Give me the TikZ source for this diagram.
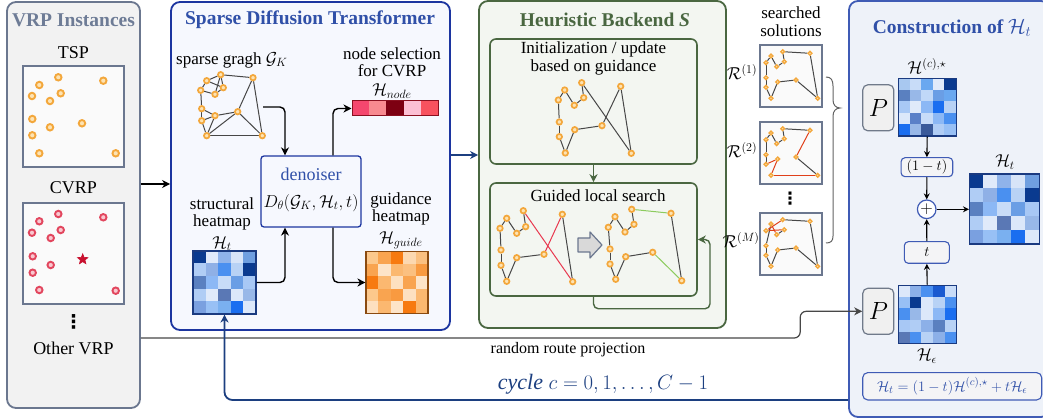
\documentclass[tikz,border=0pt]{standalone}
\usepackage{fontspec}
\setmainfont{Liberation Serif}
\newfontfamily\symfont{DejaVu Sans}
\usetikzlibrary{arrows.meta,shapes.geometric,calc}
\pgfdeclarelayer{back}
\pgfdeclarelayer{mid}
\pgfsetlayers{back,mid,main}

\definecolor{lpfill}{HTML}{F2F2F2}
\definecolor{lpdraw}{HTML}{6B778F}
\definecolor{lptitle}{HTML}{6E7C96}
\definecolor{sdtfill}{HTML}{F6F8FE}
\definecolor{sdtdraw}{HTML}{1C35A0}
\definecolor{sdttitle}{HTML}{3050A8}
\definecolor{hbfill}{HTML}{F3F6F1}
\definecolor{hbdraw}{HTML}{4A6741}
\definecolor{consfill}{HTML}{EEF2F9}
\definecolor{consdraw}{HTML}{3F5BB5}
\definecolor{cyc}{HTML}{1C3F80}
\definecolor{dotor}{HTML}{F3A73B}
\definecolor{dotorin}{HTML}{FDE3B3}
\definecolor{dotred}{HTML}{E2465E}
\definecolor{dotredin}{HTML}{F9C8D0}
\definecolor{edgeg}{HTML}{474747}
\definecolor{edgered}{HTML}{E8384F}
\definecolor{edgegreen}{HTML}{8CCB5E}
\definecolor{edgeorange}{HTML}{E0401A}
\definecolor{boxgray}{HTML}{FAFAFA}
\definecolor{pfill}{HTML}{F0F0F0}
\definecolor{pdraw}{HTML}{707A8A}
\definecolor{cboxfill}{HTML}{F4F4F6}
\definecolor{hmblue}{HTML}{1A3A80}
\definecolor{hmorange}{HTML}{8A4A10}
\definecolor{hmred}{HTML}{8A1020}
\definecolor{starred}{HTML}{C8102E}
\definecolor{barrowfill}{HTML}{D9D9D9}

% 5x5 heat map: #1 name, #2/#3 centre, #4 side, #5 border colour, #6 cell colours row by row
\newcommand{\hmap}[6]{%
  \foreach \hc [count=\i from 0] in {#6} {%
    \pgfmathtruncatemacro{\cx}{mod(\i,5)}%
    \pgfmathtruncatemacro{\cy}{floor(\i/5)}%
    \definecolor{cellc}{HTML}{\hc}%
    \fill[cellc, draw=cellc, line width=0.2pt] ({#2-#4/2+\cx*#4/5},{#3-#4/2+\cy*#4/5}) rectangle ++({#4/5},{#4/5});
  }
  \node[draw=#5, line width=1.1pt, minimum size=#4pt, inner sep=0] (#1) at (#2,#3) {};
}

% twelve small route points inside a solution box with top-left corner (#2,#3)
\newcommand{\soltour}[3]{%
  \foreach \px/\py [count=\k] in {22.7/6.7, 11/11, 6/17.7, 16.7/21.7, 24.3/16.7, 6/32.7, 6/42.3, 17.7/37, 36/35, 50/8.3, 11/53.3, 57.7/53.3}
    \node[mdot] (#1-\k) at (#2+\px,#3+\py) {};
}

\tikzset{
  panel/.style={rounded corners=9pt, line width=1.8pt, inner sep=0},
  ibox/.style={rounded corners=6pt, line width=1.6pt, draw=hbdraw, fill=hbfill, inner sep=0},
  sqbox/.style={draw=lpdraw, fill=boxgray, line width=1.6pt, minimum size=101pt, inner sep=0},
  sbox/.style={draw=lpdraw, fill=boxgray, line width=1.5pt, minimum size=62pt, inner sep=0},
  txt/.style={font=\fontsize{17}{19}\selectfont, inner sep=0},
  stack/.style={font=\fontsize{17}{17.5}\selectfont, inner sep=0, align=center},
  ttl/.style={font=\fontsize{19.5}{22}\selectfont\bfseries, inner sep=0},
  vdot/.style={inner sep=0, font=\symfont\bfseries\fontsize{19}{19}\selectfont},
  arr/.style={-{Stealth[length=8pt,width=8pt,inset=2.5pt]}, line width=1.4pt, rounded corners=5pt},
  dot/.style={circle, draw=dotor, fill=dotorin, line width=1.7pt, inner sep=0, minimum size=5.5pt},
  bigdot/.style={dot, minimum size=6.5pt, line width=1.9pt},
  rdot/.style={bigdot, draw=dotred, fill=dotredin},
  mdot/.style={dot, line width=1.3pt, minimum size=3.8pt},
  edge/.style={draw=edgeg, line width=1pt},
  pbox/.style={rounded corners=5pt, draw=pdraw, fill=pfill, line width=1.2pt, minimum width=31pt, minimum height=46pt, inner sep=0, font=\fontsize{30}{30}\selectfont},
  cbox/.style={rounded corners=4pt, draw=consdraw, fill=cboxfill, line width=1.1pt, inner sep=0, font=\fontsize{15}{15}\selectfont},
  carr/.style={-{Stealth[length=6pt,width=6pt,inset=2pt]}, line width=1.1pt},
}

\begin{document}
\begin{tikzpicture}[x=1pt,y=-1pt]
\useasboundingbox (0,0) rectangle (1043,419);

% ---------- panels and frames ----------
\begin{pgfonlayer}{back}
  \node[panel, draw=lpdraw, fill=lpfill, minimum width=133pt, minimum height=406pt] (lp) at (73.5,205) {};
  \node[panel, draw=sdtdraw, fill=sdtfill, minimum width=279pt, minimum height=328pt] (sdt) at (310.5,166) {};
  \node[panel, draw=hbdraw, fill=hbfill, minimum width=247pt, minimum height=327pt] (hb) at (602.5,164.5) {};
  \node[panel, draw=consdraw, fill=consfill, minimum width=201pt, minimum height=416pt] (cons) at (949.5,209) {};
  \node[ibox, minimum width=207pt, minimum height=125pt] (ib1) at (593.5,101.5) {};
  \node[ibox, minimum width=207pt, minimum height=113pt] (ib2) at (593.5,239.5) {};
  \node[sqbox] (tspbox) at (73.5,116.5) {};
  \node[sqbox] (cvrpbox) at (73.5,253.5) {};
  \node[sbox] (sb1) at (791,76) {};
  \node[sbox] (sb2) at (791,153) {};
  \node[sbox] (sb3) at (791,244) {};
  \node[rounded corners=3pt, draw=sdtdraw, fill=sdtfill, line width=1.3pt, minimum width=100pt, minimum height=71pt, inner sep=0] (den) at (311,191.5) {};
\end{pgfonlayer}

% ---------- titles ----------
\node[ttl, text=lptitle] (lpt) at (73.5,20) {VRP Instances};
\node[ttl, text=sdttitle] (sdtt) at (310,20) {Sparse Diffusion Transformer};
\node[ttl, text=hbdraw] (hbt) at (605,20) {Heuristic Backend \textit{S}};
\node[ttl, text=sdttitle] (const) at (952,28) {Construction of $\mathcal{H}_t$};

% ---------- VRP instances ----------
\node[txt, font=\fontsize{18}{20}\selectfont] (tspl) at (73.5,53) {TSP};
\node[txt, font=\fontsize{18}{20}\selectfont] (cvrpl) at (73.5,188) {CVRP};
\node[vdot] (vd) at (73.5,322) {⋮};
\node[txt, font=\fontsize{18}{20}\selectfont] (othl) at (73.5,348) {Other VRP};
\foreach \x/\y [count=\k] in {39.3/85, 58.3/77.3, 103.3/80.7, 32/96, 50/101, 60.7/93.3, 32.3/119, 50/127.3, 82/123.3, 32.3/135.3, 39.3/153.3, 115.7/153.3}
  \node[bigdot] (ts\k) at (\x,\y) {};
\foreach \x/\y [count=\k] in {39.3/221.3, 58.3/214, 103.3/217.3, 32/232.7, 50.7/238, 60.7/230, 32.7/256.3, 50.7/265, 32.7/272.7, 39.3/290, 115.7/290.7}
  \node[rdot] (cv\k) at (\x,\y) {};
\node[star, star points=5, star point ratio=2.3, fill=starred, draw=starred, line width=0.6pt, minimum size=11pt, inner sep=0] (depot) at (82.7,259.3) {};

% ---------- sparse graph ----------
\node[txt, anchor=west] (sgl) at (176,60) {sparse gragh $\mathcal{G}_K$};
\foreach \x/\y [count=\k] in {206.7/80.7, 220.7/74.7, 253/77.7, 200.7/90.3, 215/94.3, 223.3/87.7, 201.7/108.7, 215/115.7, 237.7/111.7, 201.7/120.7, 206.7/135.7, 262.3/135.7}
  \node[dot] (g\k) at (\x,\y) {};
\begin{pgfonlayer}{mid}
  \foreach \a/\b in {1/2, 2/3, 1/4, 4/5, 5/6, 6/2, 1/6, 2/5, 3/9, 3/12, 9/12, 9/11, 9/8, 8/7, 8/10, 7/10, 10/11, 11/12, 8/11, 4/7}
    \draw[edge] (g\a) -- (g\b);
\end{pgfonlayer}
\coordinate (gout) at (263,107);

% ---------- denoiser and heat maps ----------
\node[txt, text=sdttitle, font=\fontsize{18}{20}\selectfont] (denl) at (311,174) {denoiser};
\node[txt, font=\fontsize{17}{19}\selectfont] (denf) at (311,203) {$D_\theta(\mathcal{G}_K,\mathcal{H}_t,t)$};

\node[stack] (nsl) at (392,62) {node selection\\for CVRP};
\node[txt] (nsl3) at (392,91) {$\mathcal{H}_{node}$};
\foreach \hc [count=\k from 0] in {F5476E,F88A90,7D0012,FCC0D4,F8525F} {
  \definecolor{cellc}{HTML}{\hc}
  \fill[cellc] (352+\k*17.2,101) rectangle ++(17.2,15);
}
\node[draw=hmred, line width=1pt, minimum width=86pt, minimum height=15pt, inner sep=0] (hn) at (395,108.5) {};

\node[stack] (stl) at (222,214) {structural\\heatmap};
\node[txt] (stl3) at (222,243.5) {$\mathcal{H}_t$};
\hmap{st}{224.5}{282.5}{63}{hmblue}{0A3A8F,E0EAFA,8FB3EA,D7E4F8,6F9FE0,B0CDF5,8FB0E6,4A90F0,B8D2F5,0A3A8F,5A80C0,8CB8F5,C8DCF8,6A9EE5,A8C8F5,B0CDF5,E0EAFA,5A78B5,DCE8FA,98B8E8,7AA0E0,98C0F5,7AB0F0,1A6EF0,DCE8FA}

\node[stack] (ghl) at (401,209) {guidance\\heatmap};
\node[txt] (ghl3) at (401,240) {$\mathcal{H}_{guide}$};
\hmap{gh}{397}{282.5}{62}{hmorange}{FCC88C,F9A450,F77A10,FCD8B0,FBC080,F9A450,FDE4C8,FBB870,FBC080,F99A40,F77A10,FBB870,FDE0C0,F9A450,FDE4C8,FCC88C,F9A450,F99A40,FDE0C0,FBB870,FDE0C0,FBB870,FDE4C8,F77A10,FBB870}

\draw[arr] (gout) -| ([xshift=-26pt]den.north);
\draw[arr] ([xshift=22pt]den.north) |- (hn.west);
\draw[arr] (st.east) -| ([xshift=-26pt]den.south);
\draw[arr] ([xshift=22pt]den.south) |- (gh.west);

% ---------- heuristic backend ----------
\node[stack] (ibl) at (593.5,58.5) {Initialization / update\\based on guidance};
\node[txt] (ibl3) at (598,196) {Guided local search};

\foreach \x/\y [count=\k] in {581.7/82.7, 564.7/90, 558.3/100, 574.3/105.3, 583.7/97.7, 559.3/122, 559.3/136.7, 574.7/129.7, 602/125.7, 620.7/86.3, 565.3/153, 631.3/153.3}
  \node[dot] (a\k) at (\x,\y) {};
\foreach \x/\y [count=\k] in {523.3/210.7, 506.7/218.3, 500/228.3, 516.7/233.3, 525.7/226.7, 501/250, 501/265.3, 516.7/257.7, 544/254.3, 562.3/214.3, 506.7/281.3, 572.7/281.7}
  \node[dot] (b\k) at (\x,\y) {};
\foreach \x/\y [count=\k] in {631.7/209.3, 615/216.7, 608.3/227.3, 625/232, 634/224.3, 610/249, 610/264, 625.7/256.7, 652.7/252.3, 671/213.3, 615.7/279.3, 681.7/280.7}
  \node[dot] (c\k) at (\x,\y) {};
\begin{pgfonlayer}{mid}
  \foreach \a/\b in {1/12, 12/10, 10/9, 9/8, 8/11, 11/7, 7/6, 6/3, 3/2, 2/4, 4/5, 5/1}
    \draw[edge] (a\a) -- (a\b);
  \foreach \a/\b in {10/12, 8/9, 11/8, 7/11, 6/7, 3/6, 2/3, 2/4, 4/5, 5/1}
    \draw[edge] (b\a) -- (b\b);
  \draw[edge, draw=edgered] (b1) -- (b12);
  \draw[edge, draw=edgered] (b9) -- (b10);
  \foreach \a/\b in {10/12, 8/9, 11/8, 7/11, 6/7, 3/6, 2/3, 2/4, 4/5, 5/1}
    \draw[edge] (c\a) -- (c\b);
  \draw[edge, draw=edgegreen] (c1) -- (c10);
  \draw[edge, draw=edgegreen] (c9) -- (c12);
\end{pgfonlayer}
\draw[fill=barrowfill, draw=lpdraw, line width=1.2pt, line join=round]
  (578,238) -- (590,238) -- (590,232) -- (602,245) -- (590,258) -- (590,252) -- (578,252) -- cycle;

\draw[arr, draw=hbdraw] (ib1.south) -- (ib2.north);
\draw[arr, draw=hbdraw] (ib2.south) -- ++(0,12) -| (710,239.5) -- (ib2.east);

% ---------- searched solutions ----------
\node[stack] (ssl) at (791,21.5) {searched\\solutions};
\node[txt] (r1l) at (742,72) {$\mathcal{R}^{(1)}$};
\node[txt] (r2l) at (742,150) {$\mathcal{R}^{(2)}$};
\node[txt] (r3l) at (741,240) {$\mathcal{R}^{(M)}$};
\node[vdot, font=\symfont\bfseries\fontsize{17}{17}\selectfont] (svd) at (790,199) {⋮};
\soltour{s1}{760}{45}
\soltour{s2}{760}{122}
\soltour{s3}{760}{213}
\begin{pgfonlayer}{mid}
  \foreach \a/\b in {1/10, 10/12, 12/9, 9/8, 8/11, 11/7, 7/6, 6/3, 3/2, 2/4, 4/5, 5/1}
    \draw[edge] (s1-\a) -- (s1-\b);
  \foreach \a/\b in {1/10, 9/12, 7/6, 6/3, 3/2, 2/4, 4/5, 5/1}
    \draw[edge] (s2-\a) -- (s2-\b);
  \foreach \a/\b in {10/9, 12/11, 11/8, 8/7}
    \draw[edge, draw=edgeorange] (s2-\a) -- (s2-\b);
  \foreach \a/\b in {1/10, 10/12, 12/9, 9/8, 8/11, 11/7, 7/6, 6/2, 4/5}
    \draw[edge] (s3-\a) -- (s3-\b);
  \foreach \a/\b in {1/3, 3/5, 2/4}
    \draw[edge, draw=edgeorange] (s3-\a) -- (s3-\b);
\end{pgfonlayer}
\draw[draw=edgeg!85, line width=1pt]
  (826,77) .. controls (831,77) and (833,80) .. (833,86) -- (833,100)
  .. controls (833,105) and (836,108) .. (840,108)
  .. controls (836,108) and (833,111) .. (833,116) -- (833,236)
  .. controls (833,241) and (831,243) .. (826,243);

% ---------- construction of H_t ----------
\node[pbox] (P1) at (878.3,107.8) {$P$};
\node[pbox] (P2) at (878.3,311.3) {$P$};
\node[txt] (hcl) at (927,66) {$\mathcal{H}^{(c),\star}$};
\hmap{hc}{927.2}{107.2}{57.7}{hmblue}{A8C8F0,C8DCF8,6AA8F0,E0EAFA,0A3A8F,5A80C0,98B8E8,C0D8F8,6A9EE5,6AA8F0,A8C8F5,E0EAFA,8CB8F5,1A6EF0,B8D2F5,DCE8FA,5A80C8,C8DCF8,8CB8F5,4A90F0,1A6EF0,98B8E8,3A5A9A,B0CDF5,98C0F5}
\node[txt] (hel) at (927,356) {$\mathcal{H}_\epsilon$};
\hmap{he}{927.2}{314.2}{58}{hmblue}{DCE8FA,8CB0E8,4A90F0,1A5AD0,C8DCF8,98C0F5,0A3A8F,DCE8FA,B8D2F5,4A90F0,4A90F0,98B8E8,DCE8FA,8CB8F5,1A6EF0,A8C8F5,B0CDF5,8CB0E8,5A80C0,B8D2F5,5A78B5,4A90F0,B8D2F5,8CB0E8,4A90F0}
\node[txt] (htl) at (1005,162) {$\mathcal{H}_t$};
\hmap{ht}{1004.5}{209}{70}{hmblue}{0A3A8F,E0EAFA,8FB3EA,D7E4F8,6F9FE0,B0CDF5,8FB0E6,4A90F0,B8D2F5,0A3A8F,5A80C0,8CB8F5,C8DCF8,6A9EE5,A8C8F5,B0CDF5,E0EAFA,5A78B5,DCE8FA,98B8E8,7AA0E0,98C0F5,7AB0F0,1A6EF0,DCE8FA}
\node[cbox, minimum width=51.7pt, minimum height=19pt] (omt) at (926.9,167.2) {$(1-t)$};
\node[circle, draw=consdraw, fill=white, line width=1.2pt, minimum size=18.6pt, inner sep=0, font=\fontsize{17}{17}\selectfont] (plus) at (926.7,209.3) {$+$};
\node[cbox, minimum width=45pt, minimum height=21.6pt] (tb) at (926.8,252.5) {$t$};
\node[cbox, minimum width=179pt, minimum height=27.3pt, text=sdttitle, rounded corners=5pt] (fb) at (952.2,386.3) {$\mathcal{H}_t=(1-t)\mathcal{H}^{(c),\star}+t\mathcal{H}_\epsilon$};

\draw[carr] (hc.south) -- (omt.north);
\draw[carr] (omt.south) -- (plus.north);
\draw[carr] (plus.east) -- (ht.west |- plus.east);
\draw[carr] (tb.north) -- (plus.south);
\draw[carr] (he.north) -- (tb.south);

% ---------- connections between panels ----------
\draw[arr] (lp.east |- 0,184) -- (sdt.west |- 0,184);
\draw[arr, draw=cyc] (sdt.east |- 0,155) -- (hb.west |- 0,155);
\draw[arr, line width=1.2pt, draw=edgeg, rounded corners=6pt] (lp.east |- 0,338) -| ($(P2.west)+(-62,0)$) -- (P2.west);
\node[txt, font=\fontsize{16}{18}\selectfont] (rrp) at (568,350) {random route projection};
\draw[arr, draw=cyc, line width=1.8pt, rounded corners=8pt] (cons.west |- 0,400) -| (st.south);
\node[txt, text=cyc, font=\fontsize{22}{24}\selectfont] (cyct) at (603,384) {$\mathit{cycle}\ c=0,1,\ldots,C-1$};
\end{tikzpicture}
\end{document}
